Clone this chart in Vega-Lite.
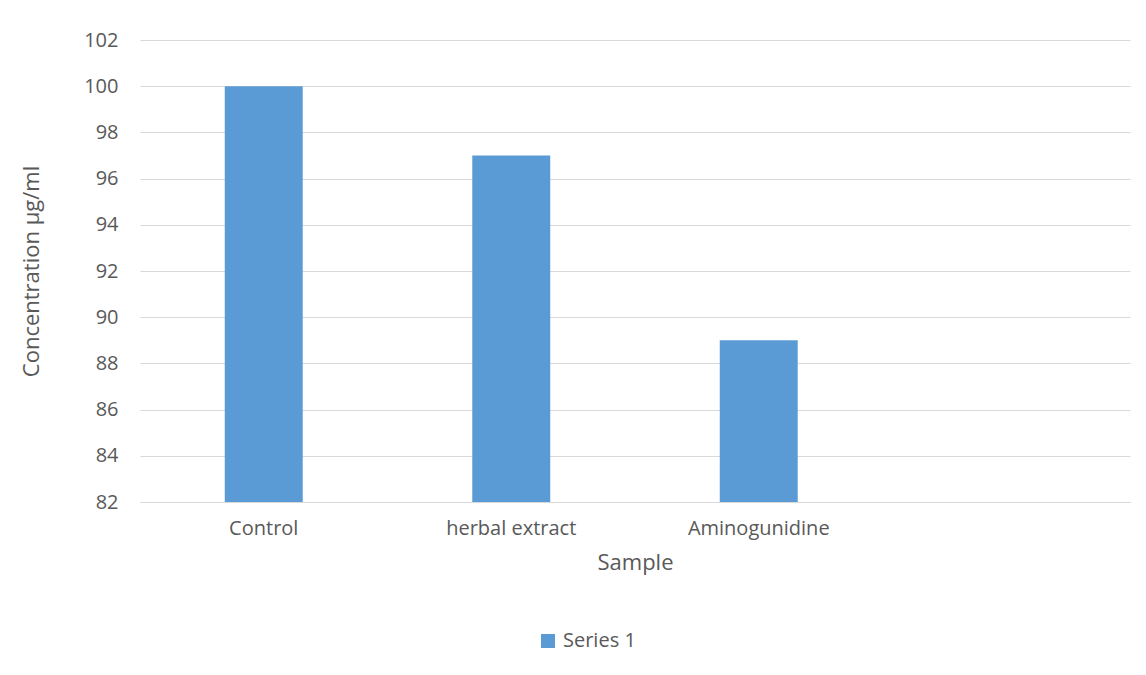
{
  "$schema": "https://vega.github.io/schema/vega-lite/v6.json",
  "autosize": {"type": "none"},
  "width": 990,
  "height": 462,
  "padding": {"left": 140, "top": 40, "right": 16, "bottom": 173},
  "background": "white",
  "data": {
    "values": [
      {"sample": "Control", "value": 100, "series": "Series 1"},
      {"sample": "herbal extract", "value": 97, "series": "Series 1"},
      {"sample": "Aminogunidine", "value": 89, "series": "Series 1"}
    ]
  },
  "mark": {"type": "bar"},
  "encoding": {
    "x": {
      "field": "sample",
      "type": "nominal",
      "sort": null,
      "scale": {"domain": ["Control", "herbal extract", "Aminogunidine", " "], "paddingInner": 0.685, "paddingOuter": 0.3425},
      "axis": {
        "title": "Sample",
        "labelAngle": 0,
        "ticks": false,
        "domain": true,
        "domainColor": "#d9d9d9",
        "grid": false,
        "labelPadding": 16,
        "titlePadding": 14
      }
    },
    "y": {
      "field": "value",
      "type": "quantitative",
      "scale": {"domain": [82, 102], "zero": false, "nice": false},
      "axis": {
        "title": "Concentration µg/ml",
        "values": [82, 84, 86, 88, 90, 92, 94, 96, 98, 100, 102],
        "ticks": false,
        "domain": false,
        "grid": true,
        "gridColor": "#d9d9d9",
        "labelPadding": 22,
        "titlePadding": 40
      }
    },
    "y2": {"datum": 82},
    "color": {
      "field": "series",
      "type": "nominal",
      "scale": {"range": ["#5B9BD5"]},
      "legend": {
        "title": null,
        "orient": "none",
        "legendX": 398,
        "legendY": 591,
        "symbolType": "square",
        "symbolSize": 196,
        "symbolStrokeWidth": 0,
        "labelOffset": 5
      }
    }
  },
  "config": {
    "font": "Open Sans",
    "view": {"stroke": null},
    "axis": {
      "labelFont": "Open Sans",
      "titleFont": "Open Sans",
      "labelFontSize": 20,
      "titleFontSize": 22,
      "labelColor": "#595959",
      "titleColor": "#595959",
      "titleFontWeight": "normal"
    },
    "legend": {
      "labelFont": "Open Sans",
      "labelFontSize": 20,
      "labelColor": "#595959"
    }
  }
}
